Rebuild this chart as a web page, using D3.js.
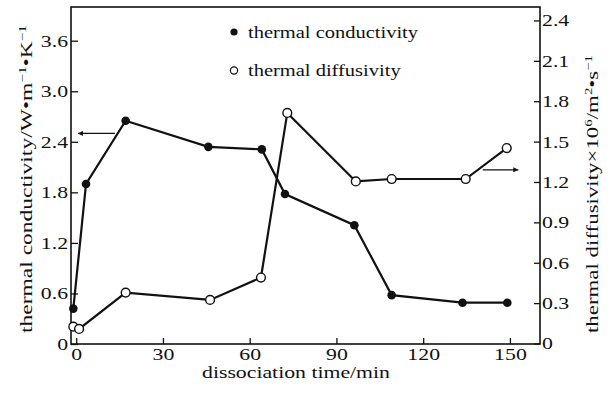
<!DOCTYPE html>
<html>
<head>
<meta charset="utf-8">
<script src="https://cdn.jsdelivr.net/npm/d3@7"></script>
<style>
  body { margin: 0; background: #fff; }
  text { font-family: "Liberation Serif", "Times New Roman", serif; fill: #111; }
</style>
</head>
<body>
<script>
// data
const timeCond = [-1, 3.4, 17.1, 45.7, 64.2, 72.2, 96.2, 109.1, 133.6, 149.1];
const conductivity = [0.42, 1.90, 2.65, 2.34, 2.31, 1.78, 1.41, 0.58, 0.49, 0.49];
const timeDiff = [-1, 1, 17.1, 46.3, 63.9, 73, 96.7, 109.1, 134.7, 148.9];
const diffusivity = [0.125, 0.108, 0.378, 0.324, 0.49, 1.713, 1.204, 1.222, 1.222, 1.452];

const xTicks = [0, 30, 60, 90, 120, 150];
const yLeftTicks = [0, 0.6, 1.2, 1.8, 2.4, 3.0, 3.6];
const yRightTicks = [0, 0.3, 0.6, 0.9, 1.2, 1.5, 1.8, 2.1, 2.4];
const legendLabels = ['thermal conductivity', 'thermal diffusivity'];

const width = 613, height = 394;
const plot = {left: 71, right: 540, top: 7, bottom: 344};
// the scanned figure has its text stretched sideways
const SX = 1.28;

const x = d3.scaleLinear().domain([-1.8, 160.4]).range([plot.left, plot.right]);
const yL = d3.scaleLinear().domain([0, 4.0]).range([plot.bottom, plot.top]);
const yR = d3.scaleLinear().domain([0, 2.5]).range([plot.bottom - 0.5, plot.top]);

const svg = d3.select('body').append('svg').attr('width', width).attr('height', height);

const fmt = d => d === 0 ? '0' : d3.format('.1f')(d);

// frame
svg.append('rect')
   .attr('x', plot.left).attr('y', plot.top)
   .attr('width', plot.right - plot.left).attr('height', plot.bottom - plot.top)
   .attr('fill', 'none').attr('stroke', '#111').attr('stroke-width', 1.6);

const gx = svg.append('g').attr('transform', `translate(0,${plot.bottom})`)
   .call(d3.axisBottom(x).tickValues(xTicks).tickFormat(d3.format('d')).tickSize(-6).tickPadding(4));
const gl = svg.append('g').attr('transform', `translate(${plot.left},0)`)
   .call(d3.axisLeft(yL).tickValues(yLeftTicks).tickFormat(fmt).tickSize(-7).tickPadding(3));
const gr = svg.append('g').attr('transform', `translate(${plot.right},0)`)
   .call(d3.axisRight(yR).tickValues(yRightTicks).tickFormat(fmt).tickSize(-6).tickPadding(2));

[gx, gl, gr].forEach(g => {
    g.select('.domain').remove();
    g.selectAll('.tick line').attr('stroke', '#111').attr('stroke-width', 1.3);
    g.selectAll('.tick text').attr('font-size', 17).attr('fill', '#111')
     .style('font-family', '"Liberation Serif", serif');
});

// lines
const lineCond = d3.line().x(d => x(d[0])).y(d => yL(d[1]));
const lineDiff = d3.line().x(d => x(d[0])).y(d => yR(d[1]));
const condPts = timeCond.map((t, i) => [t, conductivity[i]]);
const diffPts = timeDiff.map((t, i) => [t, diffusivity[i]]);

svg.append('path').datum(diffPts).attr('d', lineDiff)
   .attr('fill', 'none').attr('stroke', '#111').attr('stroke-width', 2.2);
svg.append('path').datum(condPts).attr('d', lineCond)
   .attr('fill', 'none').attr('stroke', '#111').attr('stroke-width', 2.2);

svg.selectAll('.cond').data(condPts).enter().append('circle')
   .attr('class', 'cond')
   .attr('cx', d => x(d[0])).attr('cy', d => yL(d[1]))
   .attr('r', 4.3).attr('fill', '#111');
svg.selectAll('.diff').data(diffPts).enter().append('circle')
   .attr('class', 'diff')
   .attr('cx', d => x(d[0])).attr('cy', d => yR(d[1]))
   .attr('r', 4.4).attr('fill', '#fff').attr('stroke', '#111').attr('stroke-width', 1.4);

// arrows
svg.append('defs').append('marker')
   .attr('id', 'arr').attr('viewBox', '0 0 10 10').attr('refX', 10).attr('refY', 5)
   .attr('markerWidth', 9).attr('markerHeight', 5).attr('markerUnits', 'userSpaceOnUse')
   .attr('orient', 'auto')
   .append('path').attr('d', 'M0,0L10,5L0,10Z').attr('fill', '#111');

svg.append('line')
   .attr('x1', x(13.4)).attr('x2', x(0.6)).attr('y1', yL(2.5)).attr('y2', yL(2.5))
   .attr('stroke', '#111').attr('stroke-width', 1.2).attr('marker-end', 'url(#arr)');
svg.append('line')
   .attr('x1', x(140.6)).attr('x2', x(152.9)).attr('y1', yR(1.29)).attr('y2', yR(1.29))
   .attr('stroke', '#111').attr('stroke-width', 1.2).attr('marker-end', 'url(#arr)');

// legend
const legend = svg.append('g');
legendLabels.forEach((lab, i) => {
    const cy = 32 + i * 38.5;
    legend.append('circle').attr('cx', 234).attr('cy', cy).attr('r', 3.6)
       .attr('fill', i === 0 ? '#111' : '#fff')
       .attr('stroke', '#111').attr('stroke-width', i === 0 ? 0 : 1.2);
    legend.append('text').attr('class', 'stretch')
       .attr('x', 248).attr('y', cy + 5.5).attr('font-size', 16).text(lab);
});

// axis titles
svg.append('text').attr('class', 'stretch')
   .attr('x', 296).attr('y', 378).attr('text-anchor', 'middle').attr('font-size', 17)
   .text('dissociation time/min');

function sup(t, s) {
    t.append('tspan').attr('font-size', 11).attr('dy', -6).text(s);
    return t;
}

// rotated titles: start at the bottom end, fixed length along the axis
const tl = svg.append('text')
   .attr('transform', 'translate(32,333) rotate(-90)')
   .attr('font-size', 17).attr('textLength', 308).attr('lengthAdjust', 'spacingAndGlyphs');
tl.append('tspan').text('thermal conductivity/W•m');
sup(tl, '−1');
tl.append('tspan').attr('dy', 6).text('•K');
sup(tl, '−1');

const tr = svg.append('text')
   .attr('transform', 'translate(598,333) rotate(-90)')
   .attr('font-size', 17).attr('textLength', 278).attr('lengthAdjust', 'spacingAndGlyphs');
tr.append('tspan').text('thermal diffusivity×10');
sup(tr, '6');
tr.append('tspan').attr('dy', 6).text('/m');
sup(tr, '2');
tr.append('tspan').attr('dy', 6).text('•s');
sup(tr, '−1');

// widen text like the scan
svg.selectAll('text.stretch, .tick text').each(function() {
    const len = this.getComputedTextLength();
    d3.select(this).attr('textLength', len * SX).attr('lengthAdjust', 'spacingAndGlyphs');
});
</script>
</body>
</html>
